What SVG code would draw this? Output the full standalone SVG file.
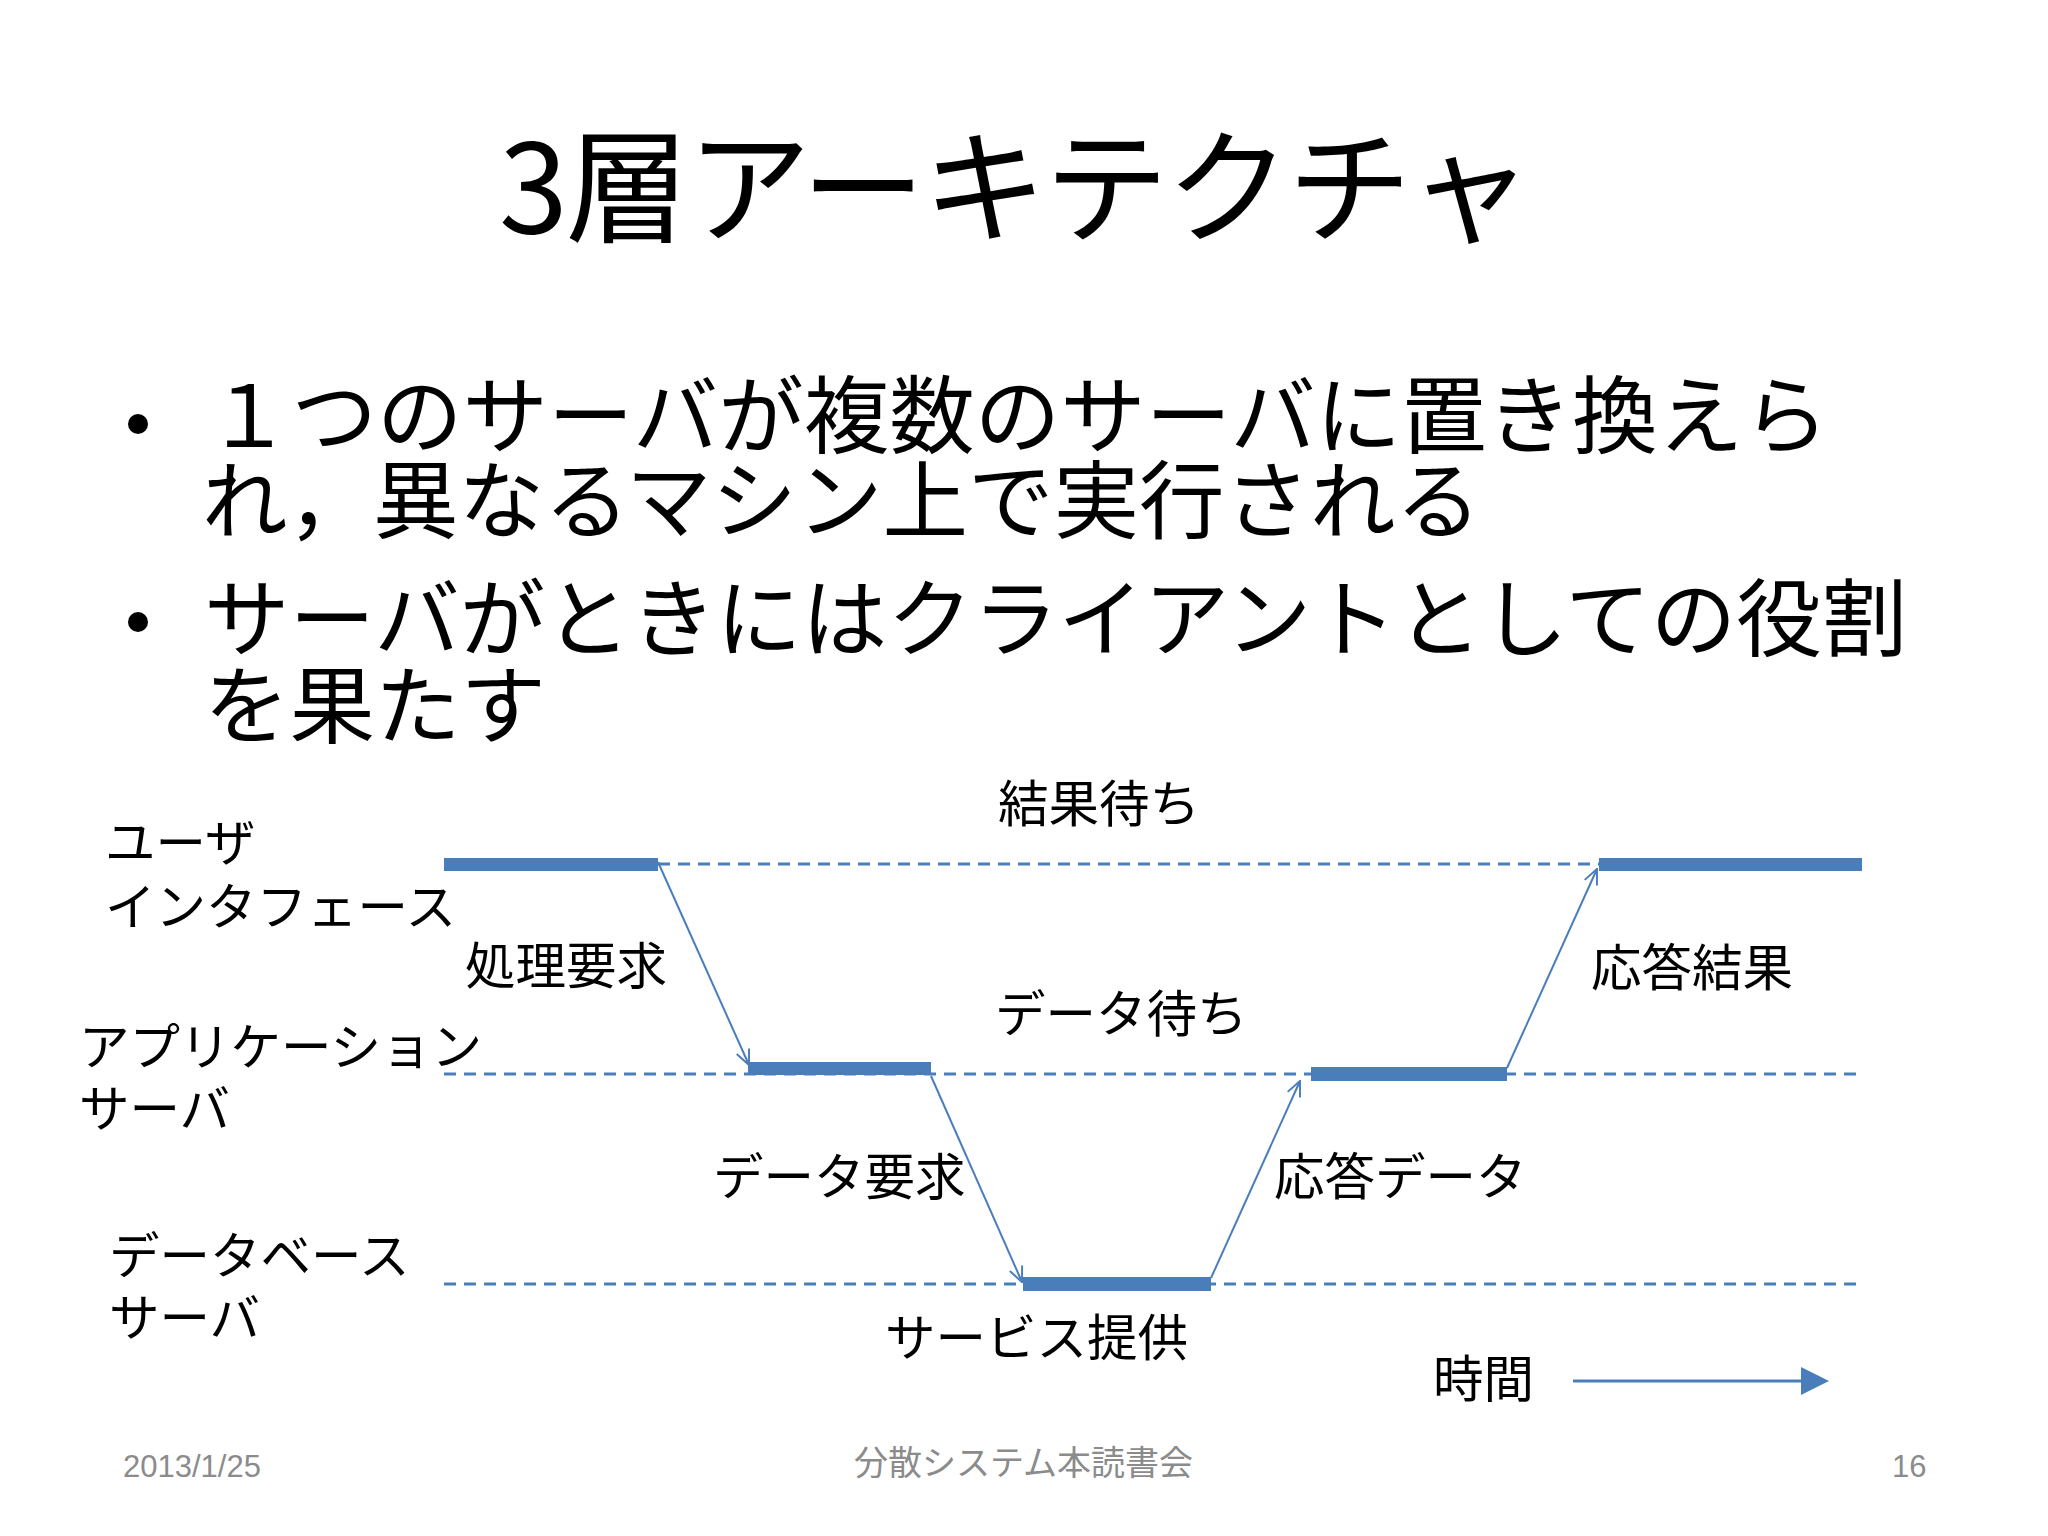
<svg xmlns="http://www.w3.org/2000/svg" width="2048" height="1536" viewBox="0 0 2048 1536">
  <defs>
    <style>
      .t { font-family: "Noto Sans CJK JP", "Noto Sans", sans-serif; fill: #000; }
      .title { font-size: 124px; }
      .bul { font-size: 85.5px; }
      .lbl { font-size: 50.5px; }
      .foot { font-family: "Liberation Sans", "Noto Sans CJK JP", sans-serif; fill: #8b8b8b; font-size: 31px; }
      .footj { font-family: "Noto Sans CJK JP", sans-serif; fill: #8b8b8b; font-size: 34px; }
      .bar { fill: #4a7ebb; }
      .dash { stroke: #4a7ebb; stroke-width: 3; stroke-dasharray: 12 8; fill: none; }
      .arr { stroke: #4a7ebb; stroke-width: 2; fill: none; marker-end: url(#open); }
    </style>
    <marker id="open" viewBox="0 0 12 12" refX="11" refY="6" markerWidth="18" markerHeight="18" markerUnits="userSpaceOnUse" orient="auto">
      <path d="M1,1.5 L11,6 L1,10.5" fill="none" stroke="#4a7ebb" stroke-width="1.3"/>
    </marker>
  </defs>
  <rect width="2048" height="1536" fill="#ffffff"/>

  <g id="title">
    <text class="t title" x="499" y="233" textLength="1033" lengthAdjust="spacing">3層アーキテクチャ</text>
  </g>

  <g id="bullets">
    <circle cx="138" cy="424" r="10" fill="#000"/>
    <text class="t bul" x="206" y="447">１つのサーバが複数のサーバに置き換えら</text>
    <text class="t bul" x="202" y="532">れ，異なるマシン上で実行される</text>
    <circle cx="138" cy="622" r="10" fill="#000"/>
    <text class="t bul" x="204" y="650">サーバがときにはクライアントとしての役割</text>
    <text class="t bul" x="204" y="737">を果たす</text>
  </g>

  <g id="lanes">
    <line class="dash" x1="658" y1="864" x2="1599" y2="864"/>
    <line class="dash" x1="444" y1="1074" x2="1862" y2="1074"/>
    <line class="dash" x1="444" y1="1284" x2="1862" y2="1284"/>
  </g>

  <g id="lane-labels">
    <g id="label-ui">
      <text class="t lbl" x="105" y="861">ユーザ</text>
      <text class="t lbl" x="105" y="925">インタフェース</text>
    </g>
    <g id="label-app">
      <text class="t lbl" x="79" y="1065">アプリケーション</text>
      <text class="t lbl" x="79" y="1127">サーバ</text>
    </g>
    <g id="label-db">
      <text class="t lbl" x="109" y="1274">データベース</text>
      <text class="t lbl" x="109" y="1336">サーバ</text>
    </g>
  </g>

  <g id="ui-active-1"><rect class="bar" x="444" y="858" width="214" height="13"/></g>
  <g id="ui-active-2"><rect class="bar" x="1599" y="858" width="263" height="13"/></g>
  <g id="app-active-1"><rect class="bar" x="748" y="1062" width="183" height="13"/></g>
  <g id="app-active-2"><rect class="bar" x="1311" y="1067" width="196" height="14"/></g>
  <g id="db-active"><rect class="bar" x="1023" y="1277" width="188" height="14"/></g>

  <g id="connectors">
    <line class="arr" x1="658" y1="862" x2="749" y2="1065"/>
    <line class="arr" x1="931" y1="1076" x2="1022" y2="1282"/>
    <line class="arr" x1="1211" y1="1278" x2="1300" y2="1081"/>
    <line class="arr" x1="1507" y1="1068" x2="1597" y2="869"/>
  </g>

  <g id="message-labels">
    <text class="t lbl" x="465" y="984">処理要求</text>
    <text class="t lbl" x="713" y="1195">データ要求</text>
    <text class="t lbl" x="1274" y="1195">応答データ</text>
    <text class="t lbl" x="1591" y="986">応答結果</text>
    <text class="t lbl" x="998" y="822">結果待ち</text>
    <text class="t lbl" x="995" y="1032">データ待ち</text>
    <text class="t lbl" x="885" y="1356">サービス提供</text>
  </g>

  <g id="time-axis">
    <text class="t lbl" x="1433" y="1397">時間</text>
    <line x1="1573" y1="1381" x2="1804" y2="1381" stroke="#4a7ebb" stroke-width="3"/>
    <polygon points="1801,1367 1829,1381 1801,1395" fill="#4a7ebb"/>
  </g>

  <g id="footer">
    <text class="foot" x="123" y="1477">2013/1/25</text>
    <text class="footj" x="854" y="1475">分散システム本読書会</text>
    <text class="foot" x="1892" y="1477">16</text>
  </g>
</svg>
